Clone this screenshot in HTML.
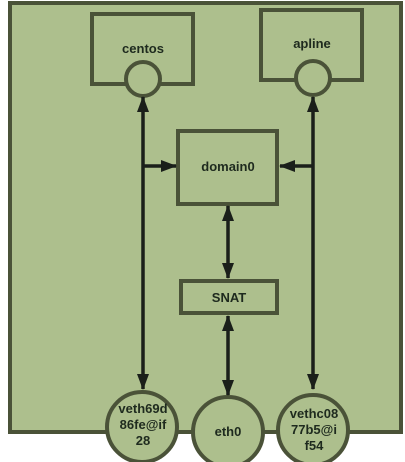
<!DOCTYPE html>
<html><head><style>body{margin:0;background:#fff}svg{display:block}</style></head><body>
<svg width="405" height="462" xmlns="http://www.w3.org/2000/svg" font-family="Liberation Sans, sans-serif" font-weight="bold" font-size="13" fill="#1e2a1e">
<defs>
<marker id="b" markerWidth="16" markerHeight="14" refX="15" refY="7" orient="auto-start-reverse" markerUnits="userSpaceOnUse" viewBox="0 0 16 14"><path d="M0,1L16,7L0,13z" fill="#1a1f1a"/></marker></defs>
<rect x="10" y="3" width="391" height="429" fill="#adbf8d" stroke="#4a5238" stroke-width="4"/>
<g stroke="#4a5238" stroke-width="4" fill="#adbf8d">
<rect x="92" y="14" width="101" height="70"/>
<rect x="261" y="10" width="101" height="70"/>
<rect x="178" y="131" width="99" height="73"/>
<rect x="181" y="281" width="96" height="32"/>
<circle cx="143" cy="79" r="17"/>
<circle cx="313" cy="78" r="17"/>
<circle cx="142" cy="427" r="35"/>
<circle cx="228" cy="432" r="35"/>
<circle cx="313" cy="430" r="35"/>
</g>
<g stroke="#1a1f1a" stroke-width="3.5" fill="none">
<path d="M143 389V97" marker-start="url(#b)" marker-end="url(#b)"/>
<path d="M313 389V97" marker-start="url(#b)" marker-end="url(#b)"/>
<path d="M143 166H176" marker-end="url(#b)"/>
<path d="M313 166H280" marker-end="url(#b)"/>
<path d="M228 206V278" marker-start="url(#b)" marker-end="url(#b)"/>
<path d="M228 316V395" marker-start="url(#b)" marker-end="url(#b)"/>
</g>
<text x="143" y="53" text-anchor="middle">centos</text>
<text x="312" y="48" text-anchor="middle">apline</text>
<text x="228" y="171" text-anchor="middle">domain0</text>
<text x="229" y="302" text-anchor="middle">SNAT</text>
<text x="143" y="413" text-anchor="middle">veth69d</text>
<text x="143" y="429" text-anchor="middle">86fe@if</text>
<text x="143" y="445" text-anchor="middle">28</text>
<text x="228" y="436" text-anchor="middle">eth0</text>
<text x="314" y="418" text-anchor="middle">vethc08</text>
<text x="314" y="434" text-anchor="middle">77b5@i</text>
<text x="314" y="450" text-anchor="middle">f54</text>
</svg>
</body></html>
